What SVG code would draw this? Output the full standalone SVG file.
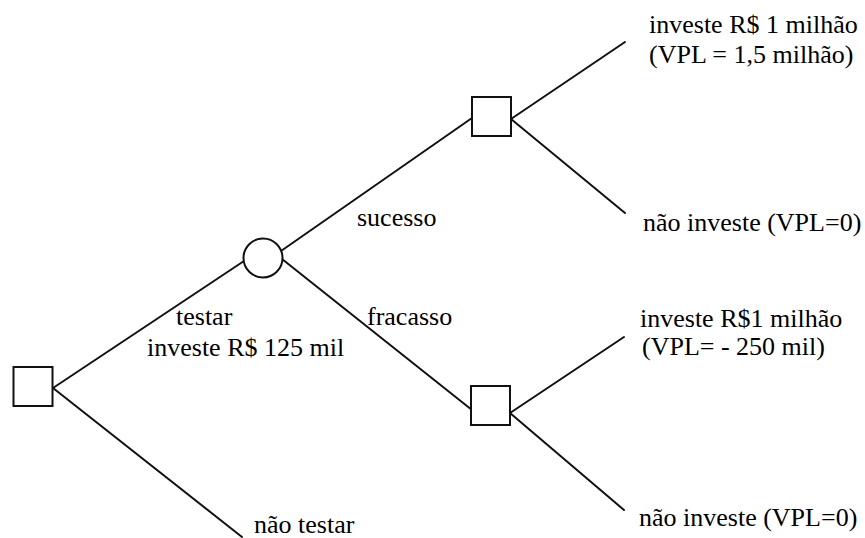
<svg xmlns="http://www.w3.org/2000/svg" width="865" height="538" viewBox="0 0 865 538">
<defs>
<symbol id="sq" viewBox="0 0 39 39" overflow="visible"><rect x="0" y="0" width="39" height="39" fill="#fff" stroke="#111" stroke-width="2"/></symbol>
</defs>
<rect width="865" height="538" fill="#fff"/>
<g id="connectors" stroke="#111" stroke-width="2" stroke-linecap="round">
<line x1="53" y1="388" x2="244" y2="261"/>
<line x1="53" y1="388" x2="242" y2="537"/>
<line x1="281" y1="251" x2="472" y2="118"/>
<line x1="282" y1="259" x2="472" y2="410"/>
<line x1="511" y1="119" x2="625" y2="42"/>
<line x1="511" y1="119" x2="625" y2="213"/>
<line x1="510" y1="413" x2="624" y2="337"/>
<line x1="510" y1="413" x2="624" y2="510"/>
</g>
<g id="root"><use href="#sq" x="13" y="367" width="40" height="39"/></g>
<g id="chance"><circle cx="263" cy="258" r="19.5" fill="#fff" stroke="#111" stroke-width="2"/></g>
<g id="dec-success"><use href="#sq" x="472" y="97" width="39" height="39"/></g>
<g id="dec-failure"><use href="#sq" x="471" y="386" width="39" height="39"/></g>
<text x="176" y="325" font-family="Liberation Serif" font-size="26">testar</text>
<text x="147" y="356" font-family="Liberation Serif" font-size="26">investe R$ 125 mil</text>
<text x="254" y="533" font-family="Liberation Serif" font-size="26">não testar</text>
<text x="357" y="226" font-family="Liberation Serif" font-size="26">sucesso</text>
<text x="367" y="325" font-family="Liberation Serif" font-size="26">fracasso</text>
<text x="649" y="33" font-family="Liberation Serif" font-size="26">investe R$ 1 milhão</text>
<text x="649" y="63" font-family="Liberation Serif" font-size="26">(VPL = 1,5 milhão)</text>
<text x="643" y="231" font-family="Liberation Serif" font-size="26">não investe (VPL=0)</text>
<text x="640" y="327" font-family="Liberation Serif" font-size="26">investe R$1 milhão</text>
<text x="642" y="355" font-family="Liberation Serif" font-size="26">(VPL= - 250 mil)</text>
<text x="639" y="526" font-family="Liberation Serif" font-size="26">não investe (VPL=0)</text>
</svg>
